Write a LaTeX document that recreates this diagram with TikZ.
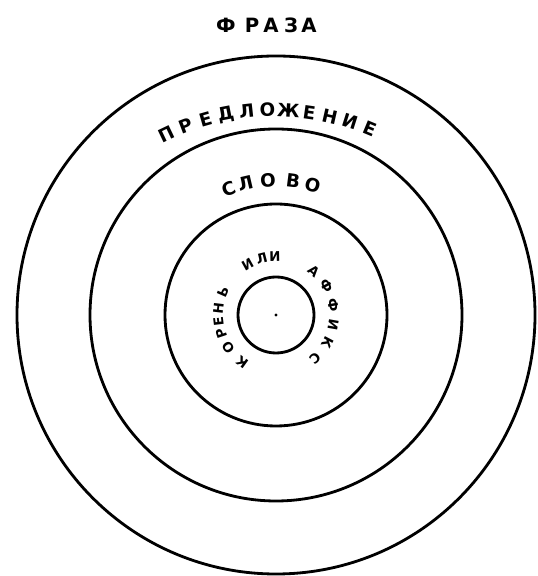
\documentclass[tikz,border=0pt]{standalone}
\usepackage{fontspec}
\setmainfont{DejaVu Sans}
\usetikzlibrary{calc}
\tikzset{
  ring/.style={black, line width=2pt},
  bigletter/.style={font=\fontsize{14}{14}\selectfont\bfseries, inner sep=0pt},
  midletter/.style={font=\fontsize{13}{13}\selectfont\bfseries, inner sep=0pt},
  smallletter/.style={font=\fontsize{9.5}{9.5}\selectfont\bfseries, inner sep=0pt}
}
\begin{document}
\begin{tikzpicture}[x=0.025cm, y=0.025cm]
        \useasboundingbox (0,0) rectangle (537,576);
        % The four circles round one centre.
            \coordinate (c) at (276,261);
            \draw[ring] (c) circle (259);
            \draw[ring] (c) circle (186);
            \draw[ring] (c) circle (111);
            \draw[ring] (c) circle (38);
            \fill (c) circle (1.6);
        % Below nodes are the labels.
            \foreach \ch/\x [count=\i] in {Ф/226, Р/252, А/271, З/291, А/309}
                \node[bigletter] (fr\i) at (\x,551) {\ch};
            \coordinate (pc) at (274,216);
            \foreach \ch [count=\i] in {П,Р,Е,Д,Л,О,Ж,Е,Н,И,Е}
                \node[midletter, rotate=25.5-4.8*(\i-1)] (pr\i) at ($(pc)+({115.5-4.8*(\i-1)}:250)$) {\ch};
            \foreach \ch/\a [count=\i] in {С/110.6, Л/103.1, О/93.4, В/82.7, О/74.3}
                \node[midletter, rotate=\a-90] (sl\i) at ($(c)+(\a:135)$) {\ch};
        % This writes the words round the smallest circle.
            \foreach \ch/\a [count=\i] in {К/234.2, О/214.5, Р/198.7, Е/186.8, Н/173.2, Ь/156.5, И/119.2, Л/104.3, И/91, А/49.3, Ф/29.7, Ф/10, И/-10, К/-27.9, С/-47.8}
                \node[smallletter, rotate=\a-90] (kr\i) at ($(c)+(\a:58)$) {\ch};
    \end{tikzpicture}
\end{document}
